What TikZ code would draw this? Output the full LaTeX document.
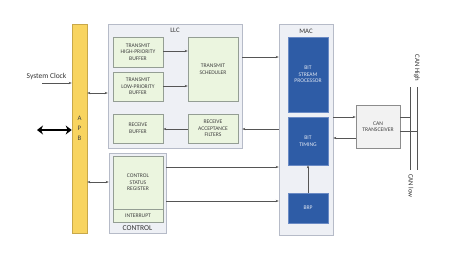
\documentclass[tikz,border=0pt]{standalone}
\usepackage{fontspec}
\setmainfont{Carlito}
\usetikzlibrary{arrows.meta,positioning}
\definecolor{apbyellow}{HTML}{F8D460}
\definecolor{apbedge}{HTML}{C8A84A}
\definecolor{pane}{HTML}{EEF0F5}
\definecolor{paneedge}{HTML}{B6BBC8}
\definecolor{bufgreen}{HTML}{EBF5DF}
\definecolor{bufedge}{HTML}{949E94}
\definecolor{macblue}{HTML}{2E5CA6}
\definecolor{macedge}{HTML}{6A8AC4}
\definecolor{wire}{HTML}{555555}
\newcommand{\boxfont}{\fontsize{5.6}{6.6}\selectfont}
\begin{document}
\begin{tikzpicture}[x=1pt, y=-1pt, >={Stealth[length=3pt,width=2.4pt]},
  pane/.style={draw=paneedge,fill=pane,line width=0.6pt,inner sep=0pt},
  buf/.style={draw=bufedge,fill=bufgreen,line width=0.6pt,align=center,inner sep=1pt,font=\boxfont,text=black!75},
  macbox/.style={draw=macedge,fill=macblue,line width=0.6pt,align=center,inner sep=1pt,font=\boxfont,text=white!85!macblue},
  lbl/.style={font=\fontsize{6.8}{8}\selectfont,text=black!80},
  wire/.style={draw=wire,line width=0.5pt}]
\fill[white] (0,0) rectangle (465,265);
\useasboundingbox (0,0) rectangle (465,265);
% APB bus
\node[draw=apbedge,fill=apbyellow,line width=0.6pt,minimum width=15pt,minimum height=209pt,align=center,font=\fontsize{6.8}{10}\selectfont,text=black!75] (apb) at (79.5,128.5) {A\\P\\B};
\node[font=\fontsize{7.5}{9}\selectfont,text=black!80] (clk) at (46.5,76) {System Clock};
\coordinate (clkin) at (42,83);
\coordinate (hostin) at (37,130);
% LLC
\node[pane,minimum width=134pt,minimum height=124pt] (llc) at (175,86) {};
\node[lbl] (llclbl) at (175,30) {LLC};
\node[buf,minimum width=50pt,minimum height=30pt] (hpbuf) at (138,52) {TRANSMIT\\HIGH-PRIORITY\\BUFFER};
\node[buf,minimum width=50pt,minimum height=29pt] (lpbuf) at (138,86.5) {TRANSMIT\\LOW-PRIORITY\\BUFFER};
\node[buf,minimum width=50pt,minimum height=29pt] (rxbuf) at (138,128.5) {RECEIVE\\BUFFER};
\node[buf,minimum width=50pt,minimum height=64pt] (sched) at (213,69) {TRANSMIT\\SCHEDULER};
\node[buf,minimum width=50pt,minimum height=29pt] (filt) at (213,128.5) {RECEIVE\\ACCEPTANCE\\FILTERS};
% CONTROL
\node[pane,minimum width=57pt,minimum height=80pt] (ctrl) at (137.5,193) {};
\node[font=\fontsize{7.5}{8}\selectfont,text=black!80] (ctrllbl) at (137.5,228) {CONTROL};
\node[buf,minimum width=50pt,minimum height=53pt] (csr) at (138,182.5) {CONTROL\\STATUS\\REGISTER};
\node[buf,minimum width=50pt,minimum height=13pt] (irq) at (138,215.5) {INTERRUPT};
% MAC
\node[pane,minimum width=54pt,minimum height=211pt] (mac) at (306,129.5) {};
\node[lbl] (maclbl) at (306,31) {MAC};
\node[macbox,minimum width=40pt,minimum height=75pt] (bsp) at (308,74.5) {BIT\\STREAM\\PROCESSOR};
\node[macbox,minimum width=40pt,minimum height=48pt] (btm) at (308,141) {BIT\\TIMING};
\node[macbox,minimum width=40pt,minimum height=30pt] (brp) at (308,208) {BRP};
% transceiver and bus
\node[draw=black!45,fill=black!5,line width=0.6pt,minimum width=44pt,minimum height=43pt,align=center,font=\boxfont,text=black!75] (xcvr) at (378,126.5) {CAN\\TRANSCEIVER};
\coordinate (hitop) at (417,87);
\coordinate (hibot) at (417,170);
\coordinate (lotop) at (410,87);
\coordinate (lobot) at (410,170);
\node[lbl,rotate=-90] (canhi) at (417,68) {CAN High};
\node[lbl,rotate=-90] (canlo) at (411,186) {CAN low};
% connectors
\draw[wire,->] (clkin) -- (apb.west |- clkin);
\draw[line width=2.6pt,{Stealth[length=6pt,width=9pt]}-{Stealth[length=6pt,width=9pt]}] (hostin) -- (apb.west |- hostin);
\draw[wire,<->] (apb.east |- 0,93) -- (llc.west |- 0,93);
\draw[wire,<->] (apb.east |- 0,182) -- (ctrl.west |- 0,182);
\draw[wire,->] (hpbuf.east |- 0,51) -- (sched.west |- 0,51);
\draw[wire,->] (lpbuf.east |- 0,86) -- (sched.west |- 0,86);
\draw[wire,->] (filt.west |- 0,129) -- (rxbuf.east |- 0,129);
\draw[wire,->] (llc.east |- 0,57) -- (mac.west |- 0,57);
\draw[wire,->] (mac.west |- 0,129) -- (llc.east |- 0,129);
\draw[wire,->] (ctrl.east |- 0,167) -- (mac.west |- 0,167);
\draw[wire,->] (ctrl.east |- 0,201) -- (mac.west |- 0,201);
\draw[wire,->] (brp) -- (btm);
\draw[wire,->] (mac.east |- 0,117) -- (xcvr.west |- 0,117);
\draw[wire,->] (xcvr.west |- 0,138) -- (mac.east |- 0,138);
\draw[wire] (xcvr.east |- 0,117) -- (lotop |- 0,117);
\draw[wire] (xcvr.east |- 0,131) -- (hitop |- 0,131);
\draw[wire] (hitop) -- (hibot);
\draw[wire] (lotop) -- (lobot);
\end{tikzpicture}
\end{document}
